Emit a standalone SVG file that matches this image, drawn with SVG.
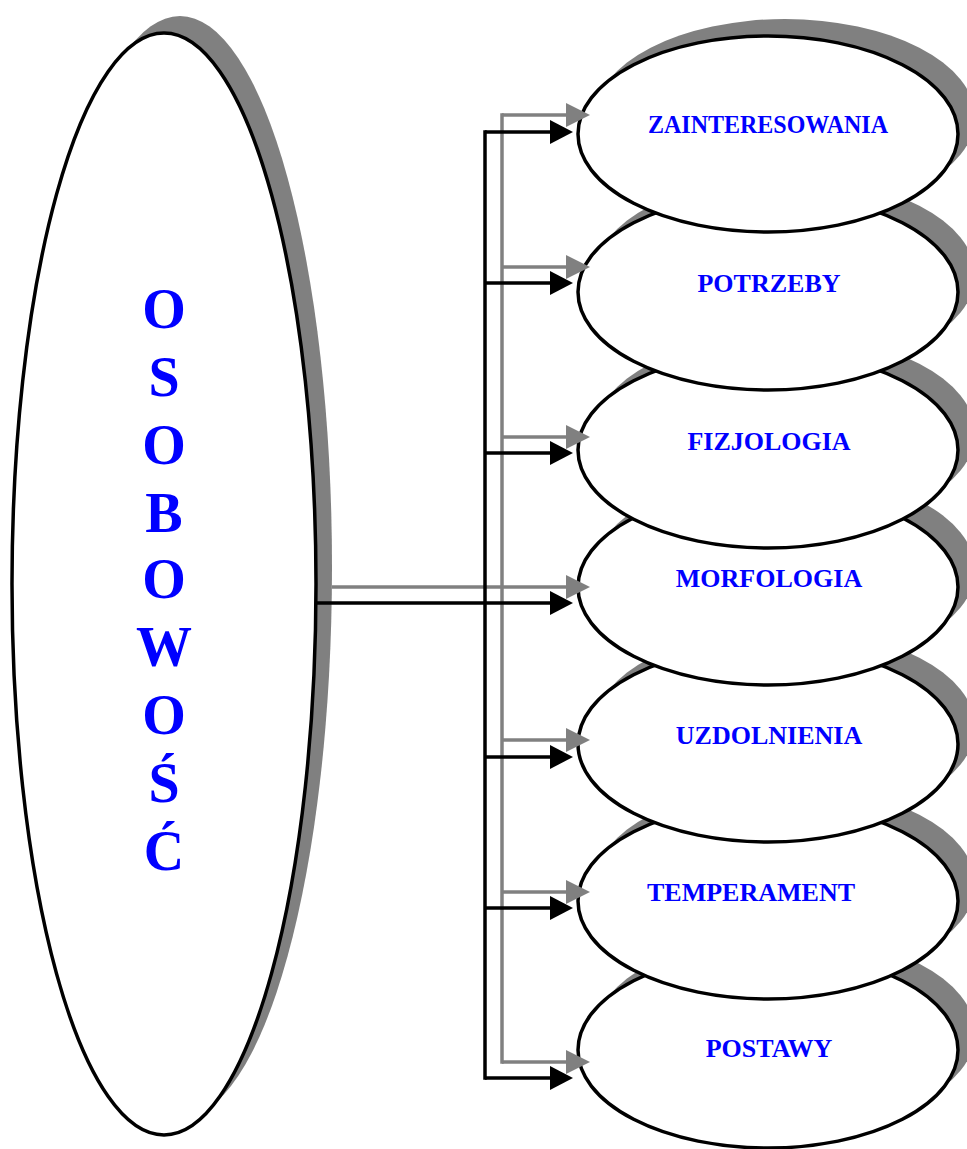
<svg xmlns="http://www.w3.org/2000/svg" width="967" height="1149" viewBox="0 0 967 1149">
<style>
.sh{fill:#808080;stroke:none}
.el{fill:#fff;stroke:#000;stroke-width:3.5}
.lbl{font-family:"Liberation Serif","Times New Roman",serif;font-weight:bold;fill:#0000ff;text-anchor:middle}
.r{font-size:26px}
.big{font-size:56px}
.cb{stroke:#000;stroke-width:3.5;fill:none}
.cg{stroke:#808080;stroke-width:3.5;fill:none}
</style>
<defs>
<marker id="ab" markerUnits="userSpaceOnUse" markerWidth="24" markerHeight="26" refX="0" refY="12" orient="auto"><path d="M0,0 L23,12 L0,24 z" fill="#000"/></marker>
<marker id="ag" markerUnits="userSpaceOnUse" markerWidth="25" markerHeight="26" refX="0" refY="12" orient="auto"><path d="M0,0 L24,12 L0,24 z" fill="#808080"/></marker>
</defs>
<g id="osobowosc">
<ellipse class="sh" cx="180" cy="567" rx="152" ry="551"/>
<ellipse class="el" cx="164" cy="584" rx="152" ry="551"/>
<text class="lbl big" x="164" y="328">O</text>
<text class="lbl big" x="164" y="396">S</text>
<text class="lbl big" x="164" y="464">O</text>
<text class="lbl big" x="164" y="532">B</text>
<text class="lbl big" x="164" y="598">O</text>
<text class="lbl big" x="164" y="666">W</text>
<text class="lbl big" x="164" y="734">O</text>
<text class="lbl big" x="164" y="802">Ś</text>
<text class="lbl big" x="164" y="870">Ć</text>
</g>
<g id="postawy">
<ellipse class="sh" cx="785" cy="1033" rx="190" ry="98"/>
<ellipse class="el" cx="768" cy="1050" rx="190" ry="98"/>
<text class="lbl r" x="769" y="1057">POSTAWY</text>
</g>
<g id="temperament">
<ellipse class="sh" cx="785" cy="884" rx="190" ry="98"/>
<ellipse class="el" cx="768" cy="901" rx="190" ry="98"/>
<text class="lbl r" x="751" y="901">TEMPERAMENT</text>
</g>
<g id="uzdolnienia">
<ellipse class="sh" cx="785" cy="727" rx="190" ry="98"/>
<ellipse class="el" cx="768" cy="744" rx="190" ry="98"/>
<text class="lbl r" x="769" y="744">UZDOLNIENIA</text>
</g>
<g id="morfologia">
<ellipse class="sh" cx="785" cy="570" rx="190" ry="98"/>
<ellipse class="el" cx="768" cy="587" rx="190" ry="98"/>
<text class="lbl r" x="769" y="587">MORFOLOGIA</text>
</g>
<g id="fizjologia">
<ellipse class="sh" cx="785" cy="433" rx="190" ry="98"/>
<ellipse class="el" cx="768" cy="450" rx="190" ry="98"/>
<text class="lbl r" x="769" y="450">FIZJOLOGIA</text>
</g>
<g id="potrzeby">
<ellipse class="sh" cx="785" cy="275" rx="190" ry="98"/>
<ellipse class="el" cx="768" cy="292" rx="190" ry="98"/>
<text class="lbl r" x="769" y="292">POTRZEBY</text>
</g>
<g id="zainteresowania">
<ellipse class="sh" cx="785" cy="117" rx="190" ry="98"/>
<ellipse class="el" cx="768" cy="134" rx="190" ry="98"/>
<text class="lbl r" x="768" y="133" textLength="240" lengthAdjust="spacingAndGlyphs">ZAINTERESOWANIA</text>
</g>
<g id="connectors">
<path class="cg" d="M332,587 H502"/>
<path class="cg" d="M502,115 V1062" stroke-linecap="square"/>
<path class="cg" marker-end="url(#ag)" d="M502,115 H566"/>
<path class="cg" marker-end="url(#ag)" d="M502,267 H566"/>
<path class="cg" marker-end="url(#ag)" d="M502,437 H566"/>
<path class="cg" marker-end="url(#ag)" d="M502,587 H566"/>
<path class="cg" marker-end="url(#ag)" d="M502,740 H566"/>
<path class="cg" marker-end="url(#ag)" d="M502,892 H566"/>
<path class="cg" marker-end="url(#ag)" d="M502,1062 H566"/>
<path class="cb" d="M315,603 H485"/>
<path class="cb" d="M485,132 V1078" stroke-linecap="square"/>
<path class="cb" marker-end="url(#ab)" d="M485,132 H550"/>
<path class="cb" marker-end="url(#ab)" d="M485,283 H550"/>
<path class="cb" marker-end="url(#ab)" d="M485,453 H550"/>
<path class="cb" marker-end="url(#ab)" d="M485,603 H550"/>
<path class="cb" marker-end="url(#ab)" d="M485,757 H550"/>
<path class="cb" marker-end="url(#ab)" d="M485,908 H550"/>
<path class="cb" marker-end="url(#ab)" d="M485,1078 H550"/>
</g>
</svg>
